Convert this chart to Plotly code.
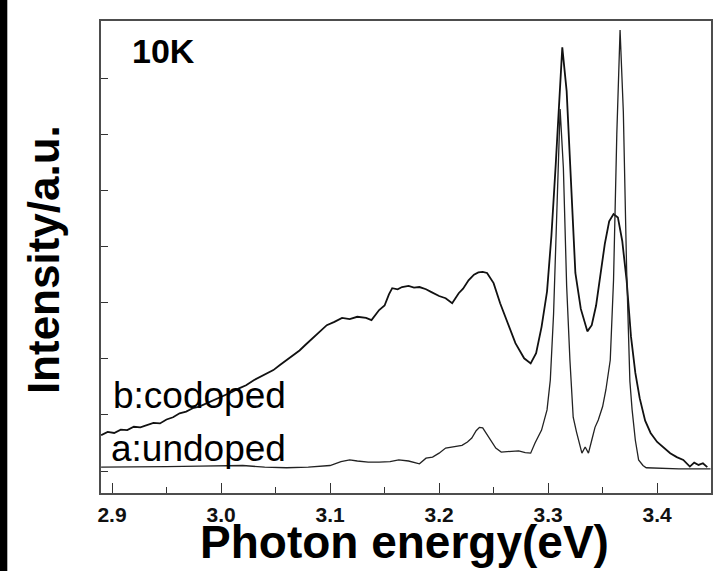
import plotly.graph_objects as go

# codoped sample (b)
b_energy = [2.890, 2.896, 2.902, 2.908, 2.914, 2.920, 2.926, 2.932, 2.938, 2.944, 2.950, 2.956,
            2.962, 2.968, 2.974, 2.980, 2.986, 2.992, 2.998, 3.004, 3.010, 3.017, 3.023, 3.030,
            3.036, 3.042, 3.048, 3.054, 3.060, 3.066, 3.072, 3.078, 3.084, 3.090, 3.097, 3.104,
            3.111, 3.118, 3.125, 3.133, 3.138, 3.145, 3.150, 3.154, 3.157, 3.162, 3.166, 3.172,
            3.177, 3.182, 3.188, 3.193, 3.200, 3.206, 3.212, 3.218, 3.222, 3.227, 3.232, 3.236,
            3.240, 3.244, 3.250, 3.256, 3.264, 3.270, 3.278, 3.284, 3.289, 3.294, 3.299, 3.303,
            3.307, 3.311, 3.313, 3.317, 3.321, 3.325, 3.330, 3.336, 3.340, 3.344, 3.348, 3.352,
            3.356, 3.360, 3.364, 3.368, 3.372, 3.376, 3.380, 3.384, 3.389, 3.394, 3.400, 3.406,
            3.412, 3.418, 3.424, 3.430, 3.434, 3.438, 3.442, 3.446]
b_intensity = [0.64, 0.70, 0.68, 0.74, 0.73, 0.79, 0.78, 0.82, 0.86, 0.85, 0.92, 0.96,
               1.03, 1.06, 1.12, 1.15, 1.20, 1.26, 1.30, 1.36, 1.41, 1.48, 1.53, 1.62,
               1.68, 1.73, 1.80, 1.89, 1.98, 2.06, 2.15, 2.26, 2.37, 2.48, 2.60, 2.66,
               2.73, 2.71, 2.75, 2.73, 2.69, 2.87, 2.95, 3.15, 3.26, 3.24, 3.28, 3.30,
               3.27, 3.28, 3.24, 3.19, 3.12, 3.08, 2.99, 3.17, 3.25, 3.40, 3.50, 3.54,
               3.55, 3.53, 3.35, 2.99, 2.57, 2.28, 2.01, 1.92, 2.10, 2.57, 3.20, 4.19,
               5.47, 6.77, 7.55, 6.77, 5.15, 3.53, 2.89, 2.49, 2.60, 2.95, 3.50, 4.05,
               4.45, 4.58, 4.52, 4.10, 3.40, 2.40, 1.75, 1.30, 0.90, 0.68, 0.52, 0.42,
               0.32, 0.25, 0.20, 0.08, 0.15, 0.11, 0.14, 0.07]

# undoped sample (a)
a_energy = [2.890, 2.920, 2.950, 2.980, 3.000, 3.020, 3.040, 3.060, 3.080, 3.100, 3.110, 3.118,
            3.125, 3.135, 3.145, 3.155, 3.163, 3.172, 3.182, 3.188, 3.194, 3.200, 3.206, 3.214,
            3.221, 3.226, 3.230, 3.234, 3.237, 3.240, 3.243, 3.246, 3.249, 3.252, 3.257, 3.265,
            3.273, 3.279, 3.284, 3.288, 3.294, 3.299, 3.302, 3.305, 3.308, 3.311, 3.314, 3.317,
            3.320, 3.323, 3.326, 3.328, 3.331, 3.334, 3.337, 3.340, 3.343, 3.346, 3.350, 3.353,
            3.357, 3.360, 3.363, 3.366, 3.369, 3.372, 3.375, 3.377, 3.380, 3.383, 3.387, 3.390,
            3.400, 3.420, 3.449]
a_intensity = [0.07, 0.07, 0.08, 0.09, 0.10, 0.10, 0.07, 0.06, 0.07, 0.10, 0.17, 0.20,
               0.18, 0.16, 0.16, 0.17, 0.20, 0.18, 0.13, 0.23, 0.25, 0.32, 0.41, 0.44,
               0.46, 0.52, 0.59, 0.72, 0.78, 0.77, 0.68, 0.59, 0.49, 0.41, 0.34, 0.35,
               0.36, 0.33, 0.32, 0.50, 0.73, 1.09, 1.62, 2.80, 4.50, 6.45, 5.40, 3.30,
               1.98, 0.96, 0.70, 0.55, 0.32, 0.43, 0.32, 0.55, 0.78, 0.91, 1.15, 1.45,
               1.98, 3.40, 6.00, 7.86, 6.40, 3.60, 1.60, 1.10, 0.55, 0.20, 0.10, 0.06,
               0.05, 0.04, 0.04]

x_ticks = [2.9, 3.0, 3.1, 3.2, 3.3, 3.4]
x_ticklabels = ["2.9", "3.0", "3.1", "3.2", "3.3", "3.4"]
y_ticks = [0, 1, 2, 3, 4, 5, 6, 7]

FONT = "Liberation Sans, Arial, sans-serif"

fig = go.Figure()
fig.add_trace(go.Scatter(x=b_energy, y=b_intensity, mode="lines",
                         line=dict(color="#111111", width=1.8), name="b:codoped"))
fig.add_trace(go.Scatter(x=a_energy, y=a_intensity, mode="lines",
                         line=dict(color="#222222", width=1.3), name="a:undoped"))

fig.update_layout(
    width=714, height=571,
    margin=dict(l=101, r=1, t=21, b=78),
    paper_bgcolor="white", plot_bgcolor="white",
    showlegend=False,
    font=dict(family=FONT, color="black"),
)
fig.update_xaxes(
    range=[2.8899, 3.4494], tickvals=x_ticks, ticktext=x_ticklabels,
    ticks="inside", ticklen=10, tickwidth=1.3, tickcolor="#333",
    minor=dict(ticks="inside", ticklen=6, dtick=0.05, tick0=2.9, tickcolor="#333", tickwidth=1.2),
    showline=True, linecolor="#4d4d4d", linewidth=2, mirror=True,
    showgrid=False, zeroline=False,
    tickfont=dict(family=FONT, size=21, color="#111", weight="bold"),
    ticklabelstandoff=2,
)
fig.update_yaxes(
    range=[-0.39, 8.02], tickvals=y_ticks, showticklabels=False,
    ticks="inside", ticklen=7, tickwidth=1.3, tickcolor="#333",
    showline=True, linecolor="#4d4d4d", linewidth=2, mirror=True,
    showgrid=False, zeroline=False,
)

fig.add_annotation(text="10K", xref="paper", yref="paper", x=0.103, y=0.936,
                   showarrow=False, xanchor="center", yanchor="middle",
                   font=dict(family=FONT, size=34, color="black", weight="bold"))
fig.add_annotation(text="b:codoped", xref="paper", yref="paper", x=0.017, y=0.206,
                   showarrow=False, xanchor="left", yanchor="middle",
                   font=dict(family=FONT, size=37, color="black"))
fig.add_annotation(text="a:undoped", xref="paper", yref="paper", x=0.013, y=0.095,
                   showarrow=False, xanchor="left", yanchor="middle",
                   font=dict(family=FONT, size=37, color="black"))
fig.add_annotation(text="Photon energy(eV)", xref="paper", yref="paper", x=0.497, y=-0.104,
                   showarrow=False, xanchor="center", yanchor="middle",
                   font=dict(family=FONT, size=46, color="black", weight="bold"))
fig.add_annotation(text="Intensity/a.u.", xref="paper", yref="paper", x=-0.093, y=0.494,
                   showarrow=False, xanchor="center", yanchor="middle", textangle=-90,
                   font=dict(family=FONT, size=44, color="black", weight="bold"))

# black strip along the left edge of the picture
fig.add_shape(type="rect", xref="paper", yref="paper", x0=-0.166, x1=-0.1536, y0=-0.2, y1=1.1,
              fillcolor="black", line=dict(width=0), layer="above")

fig.write_html("out.html", config={"displayModeBar": False},
               post_script="document.body.style.margin='0';document.body.style.overflow='hidden';")
